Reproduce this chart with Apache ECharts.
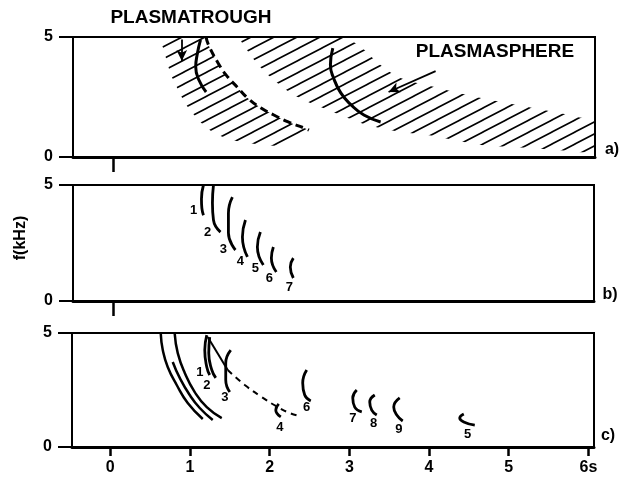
<!DOCTYPE html>
<html>
<head>
<meta charset="utf-8">
<script src="https://cdn.jsdelivr.net/npm/echarts@6/dist/echarts.min.js"></script>
<style>html,body{margin:0;padding:0;background:#fff}#c{width:625px;height:479px}</style>
</head>
<body>
<div id="c"></div>
<script>
// ---------- data (time in s, frequency in kHz) ----------
const xTicks = [0, 1, 2, 3, 4, 5, 6];
const xTickLabels = ['0', '1', '2', '3', '4', '5', '6s'];
const yTicks = [0, 5];

// panel a : shaded regions
const band1Left = [[0.62,5.0],[0.66,4.46],[0.70,3.96],[0.75,3.42],[0.81,3.0],[0.87,2.58],[0.96,2.08],[1.06,1.67],[1.16,1.33],[1.29,1.0],[1.44,0.79],[1.63,0.62],[1.81,0.54],[2.13,0.5],[2.48,1.12]];
const band1Dash = [[1.19,5.0],[1.22,4.67],[1.34,3.92],[1.44,3.42],[1.59,2.88],[1.71,2.46],[1.88,2.04],[2.04,1.75],[2.22,1.46],[2.42,1.21],[2.48,1.12]];
const band2Lower = [[1.63,5.0],[1.73,4.33],[1.88,3.71],[2.04,3.21],[2.25,2.67],[2.47,2.29],[2.72,1.96],[2.97,1.63],[3.22,1.33],[3.63,1.04],[3.97,0.92],[4.30,0.71],[4.64,0.5],[4.98,0.42],[5.30,0.38],[5.60,0.29],[6.07,0.29]];
const band2Upper = [[2.85,5.0],[3.10,4.67],[3.38,3.83],[3.63,3.29],[4.10,2.88],[4.64,2.46],[5.23,2.08],[5.85,1.67],[6.07,1.46]];
// panel a : traces and arrows
const traceTrough = [[1.12,4.88],[1.08,4.3],[1.06,3.75],[1.10,3.21],[1.19,2.71]];
const traceSphere = [[2.78,4.54],[2.75,3.83],[2.79,3.29],[2.88,2.67],[3.01,2.17],[3.17,1.75],[3.38,1.46]];
const arrowTrough = [[0.885,4.9],[0.885,4.0]];
const arrowSphere = [[4.07,3.58],[3.48,2.71]];

// panel b : whistlers 1..7
const bTraces = [
  [[1.16,5.0],[1.135,4.4],[1.14,4.0],[1.16,3.7]],
  [[1.286,5.0],[1.273,4.22],[1.286,3.49],[1.374,2.97]],
  [[1.524,4.48],[1.474,3.79],[1.474,2.93],[1.562,2.2]],
  [[1.688,3.49],[1.65,2.76],[1.713,1.9]],
  [[1.876,2.97],[1.838,2.33],[1.913,1.55]],
  [[2.039,2.33],[2.014,1.85],[2.076,1.25]],
  [[2.29,1.85],[2.252,1.47],[2.29,0.99]]
];
const bLabels = [['1',1.035,3.92],['2',1.211,2.97],['3',1.41,2.24],['4',1.625,1.72],['5',1.813,1.42],['6',1.99,0.99],['7',2.24,0.6]];

// panel c : long traces and whistlers
const cLong = [
  [[0.634,4.96],[0.659,4.25],[0.721,3.51],[0.834,2.72],[0.972,1.93],[1.161,1.23]],
  [[0.809,4.96],[0.847,4.12],[0.935,3.25],[1.06,2.41],[1.211,1.75],[1.399,1.27]],
  [[0.784,3.73],[0.872,3.03],[0.997,2.28],[1.123,1.71],[1.286,1.18]]
];
const cTraces = [
  [[1.211,4.91],[1.186,4.25],[1.211,3.51],[1.248,3.16]],
  [[1.248,4.82],[1.236,4.12],[1.274,3.38],[1.324,3.03]],
  [[1.512,4.25],[1.449,3.68],[1.449,2.94],[1.5,2.41]],
  [[2.114,1.89],[2.077,1.62],[2.14,1.32]],
  [[2.465,3.38],[2.415,2.81],[2.44,2.28],[2.516,2.02]],
  [[3.093,2.5],[3.043,2.15],[3.068,1.75],[3.156,1.54]],
  [[3.319,2.28],[3.256,1.97],[3.281,1.62],[3.344,1.40]],
  [[3.632,2.15],[3.557,1.75],[3.595,1.40],[3.67,1.14]],
  [[4.436,1.45],[4.385,1.27],[4.436,1.10],[4.574,0.96]]
];
const cDiag = [[1.223,4.82],[1.474,3.38]];
const cDash = [[1.474,3.38],[1.688,2.72],[1.901,2.19],[2.102,1.75],[2.252,1.49],[2.378,1.36]];
const cLabels = [['1',1.123,3.29],['2',1.211,2.72],['3',1.437,2.19],['4',2.127,0.88],['6',2.465,1.75],['7',3.043,1.27],['8',3.306,1.05],['9',3.62,0.79],['5',4.485,0.53]];

// ---------- chart ----------
const FONT = '"Liberation Sans", Arial, sans-serif';
const chart = echarts.init(document.getElementById('c'), null, {renderer: 'canvas'});

// hatch pattern
const pc = document.createElement('canvas');
const PW = 23, PH = 12;
pc.width = PW; pc.height = PH;
const g = pc.getContext('2d');
g.strokeStyle = '#000'; g.lineWidth = 1.6;
g.beginPath();
g.moveTo(-PW, 2*PH); g.lineTo(2*PW, -PH);
g.moveTo(-2*PW, 2*PH); g.lineTo(PW, -PH);
g.moveTo(0, 2*PH); g.lineTo(3*PW, -PH);
g.stroke();
const hatch = {image: pc, repeat: 'repeat'};

const grids = [
  {left: 73, top: 37, width: 522, height: 120},
  {left: 73, top: 185, width: 521, height: 116},
  {left: 72, top: 333, width: 522, height: 114}
].map(o => Object.assign({show: true, borderColor: '#000', borderWidth: 2, backgroundColor: 'transparent'}, o));

function xAxisFor(i) {
  const last = i === 2;
  return {
    type: 'value', gridIndex: i, min: -0.48, max: 6.07,
    axisLine: {show: true, onZero: false, lineStyle: {color: '#000', width: 3}},
    splitLine: {show: false},
    axisTick: {show: true, inside: false, length: last ? 9 : 15, customValues: last ? xTicks : [0.02], lineStyle: {color: '#000', width: 2.5}},
    axisLabel: {show: last, customValues: xTicks, margin: 13, color: '#000', fontFamily: FONT, fontWeight: 'bold', fontSize: 16,
      formatter: v => { const k = xTicks.indexOf(Math.round(v)); return k >= 0 ? xTickLabels[k] : ''; }}
  };
}
function yAxisFor(i) {
  return {
    type: 'value', gridIndex: i, min: 0, max: 5, interval: 5,
    axisLine: {show: true, onZero: false, lineStyle: {color: '#000', width: 2}},
    splitLine: {show: false},
    axisTick: {show: true, length: 14, customValues: yTicks, lineStyle: {color: '#000', width: 2}},
    axisLabel: {margin: 20, customValues: yTicks, color: '#000', fontFamily: FONT, fontWeight: 'bold', fontSize: 16}
  };
}

function line(i, pts, opt) {
  return Object.assign({
    type: 'line', xAxisIndex: i, yAxisIndex: i, data: pts, smooth: 0.5, symbol: 'none',
    lineStyle: {color: '#000', width: 2.8}, silent: true, animation: false, z: 3
  }, opt || {});
}
function band(i, outline) {
  return {
    type: 'custom', xAxisIndex: i, yAxisIndex: i, data: outline, clip: true, silent: true, animation: false, z: 2,
    renderItem: (params, api) => {
      if (params.dataIndex !== 0) return null;
      const pts = outline.map(p => api.coord(p));
      return {type: 'polygon', shape: {points: pts, smooth: 0.3}, style: {fill: hatch, stroke: null}};
    }
  };
}
function arrow(i, pts) {
  return {
    type: 'line', xAxisIndex: i, yAxisIndex: i, data: [], silent: true, animation: false,
    markLine: {silent: true, animation: false, symbol: ['none', 'arrow'], symbolSize: [8, 11],
      lineStyle: {color: '#000', width: 1.8, type: 'solid'}, label: {show: false},
      data: [[{coord: pts[0]}, {coord: pts[1]}]]}
  };
}
function labels(i, arr) {
  return {
    type: 'scatter', xAxisIndex: i, yAxisIndex: i, symbolSize: 1, itemStyle: {color: 'rgba(0,0,0,0)', opacity: 1},
    silent: true, animation: false, z: 4,
    data: arr.map(a => ({name: a[0], value: [a[1], a[2]]})),
    label: {show: true, position: 'inside', formatter: '{b}', color: '#000', opacity: 1, textBorderWidth: 0,
      fontFamily: FONT, fontWeight: 'bold', fontSize: 13}
  };
}

const series = [
  band(0, band1Left.concat(band1Dash.slice().reverse())),
  band(0, band2Lower.concat(band2Upper.slice().reverse())),
  line(0, band1Dash, {lineStyle: {color: '#000', width: 3, type: [8, 5]}}),
  line(0, traceTrough, {lineStyle: {color: '#000', width: 3}}),
  line(0, traceSphere, {lineStyle: {color: '#000', width: 3}}),
  arrow(0, arrowTrough),
  arrow(0, arrowSphere)
];
bTraces.forEach(t => series.push(line(1, t)));
series.push(labels(1, bLabels));
cLong.forEach(t => series.push(line(2, t, {lineStyle: {color: '#000', width: 2.5}})));
cTraces.forEach(t => series.push(line(2, t)));
series.push(line(2, cDiag, {smooth: false, lineStyle: {color: '#000', width: 2}}));
series.push(line(2, cDash, {lineStyle: {color: '#000', width: 2, type: [6, 5]}}));
series.push(labels(2, cLabels));

const textStyle = (txt, size) => ({text: txt, font: 'bold ' + size + 'px ' + FONT, fill: '#000', textAlign: 'center', textVerticalAlign: 'middle'});

chart.setOption({
  animation: false,
  backgroundColor: '#fff',
  grid: grids,
  xAxis: [0, 1, 2].map(xAxisFor),
  yAxis: [0, 1, 2].map(yAxisFor),
  series: series,
  graphic: [
    {type: 'text', x: 191, y: 18, style: textStyle('PLASMATROUGH', 19)},
    {type: 'text', x: 495, y: 52, style: textStyle('PLASMASPHERE', 19)},
    {type: 'text', x: 612, y: 150, style: textStyle('a)', 16)},
    {type: 'text', x: 610, y: 295, style: textStyle('b)', 16)},
    {type: 'text', x: 608, y: 436, style: textStyle('c)', 16)},
    {type: 'text', x: 21, y: 238, rotation: Math.PI / 2, style: textStyle('f(kHz)', 16)}
  ]
});
</script>
</body>
</html>
